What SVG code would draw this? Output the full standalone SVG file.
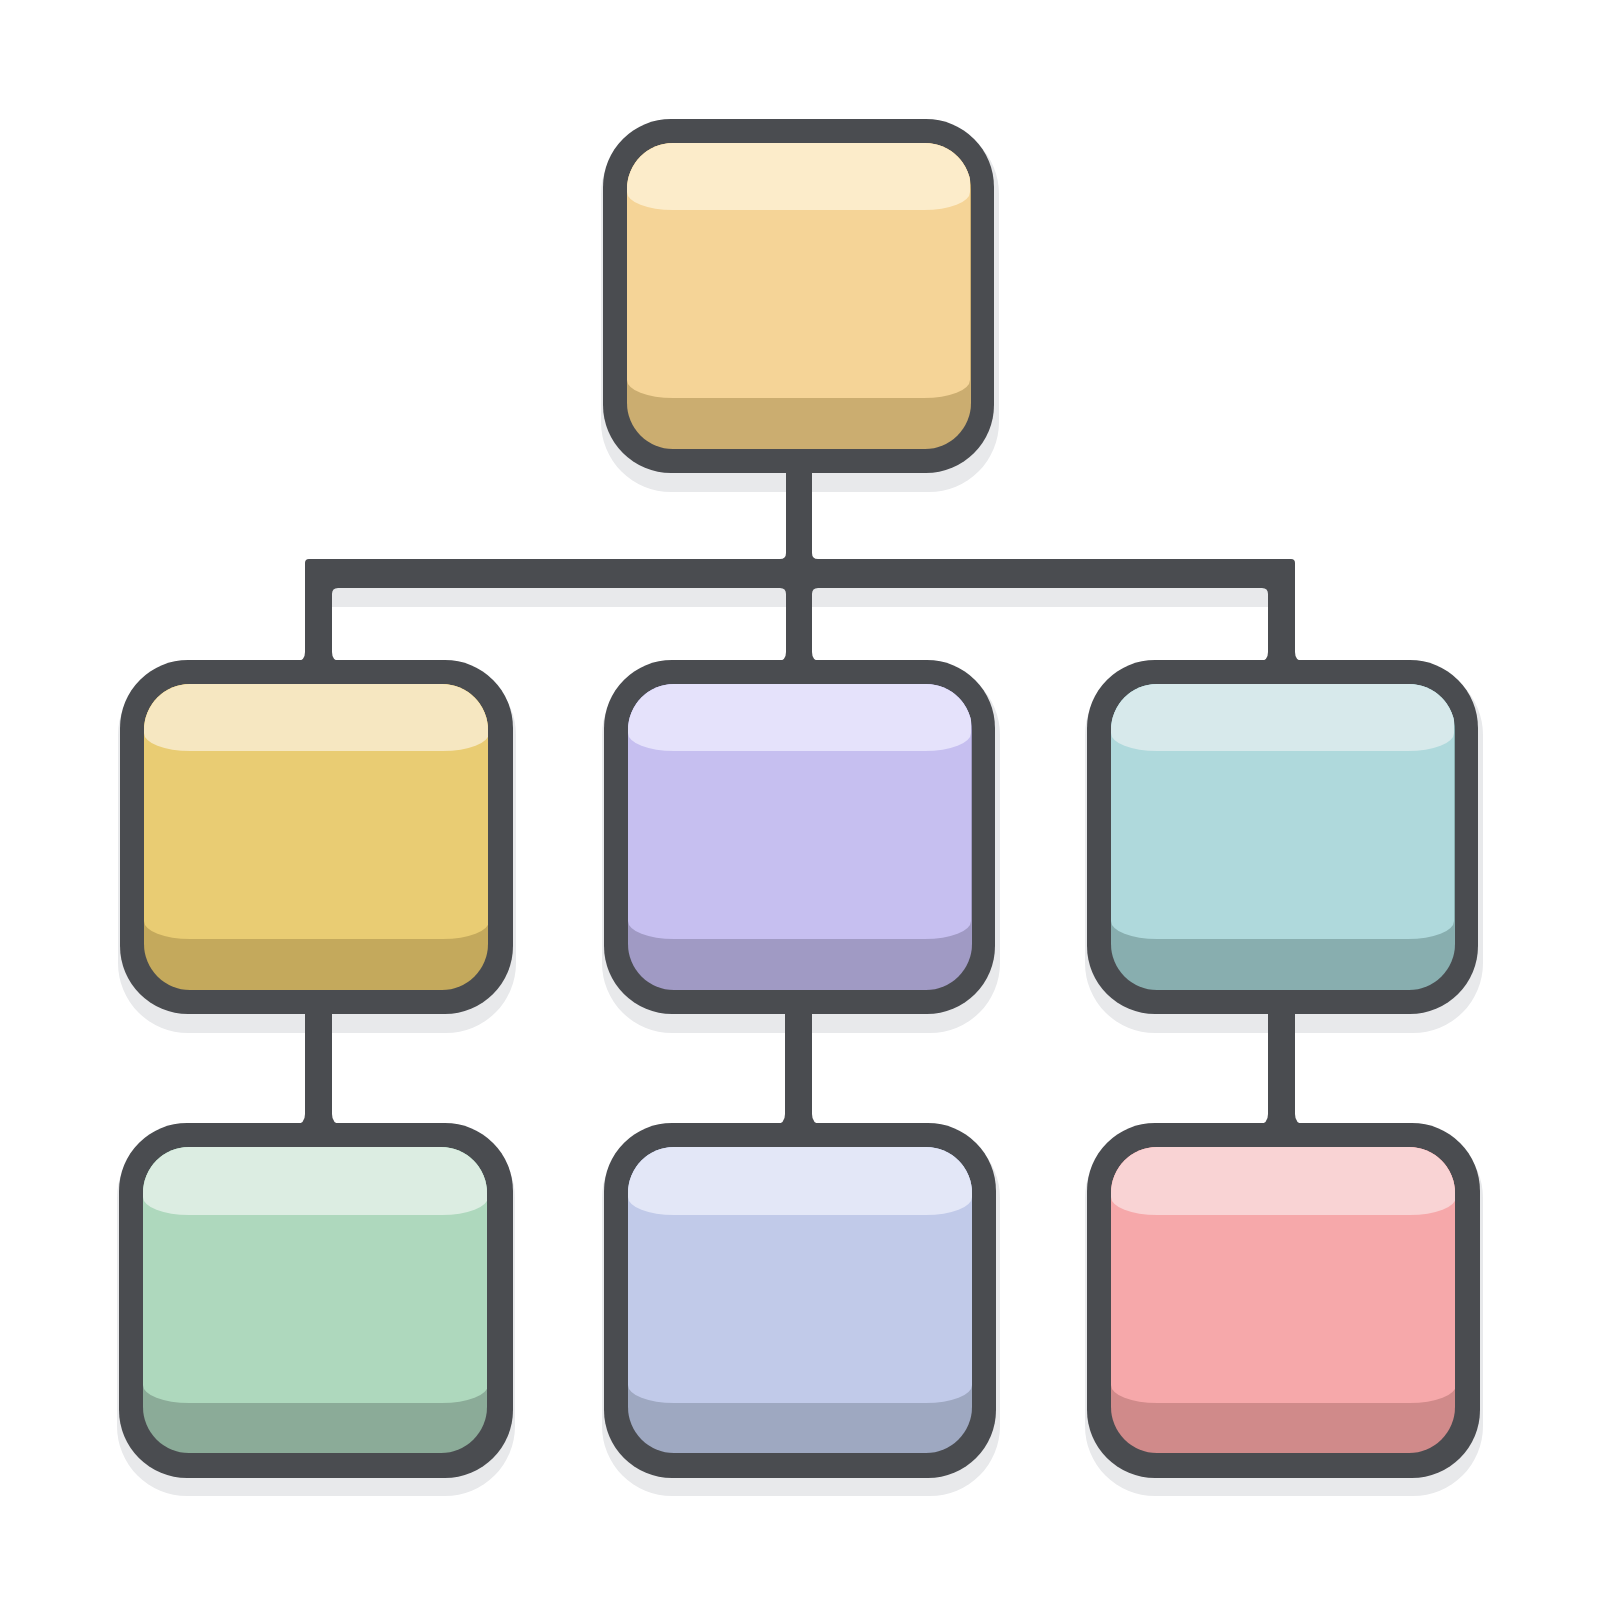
<svg xmlns="http://www.w3.org/2000/svg" width="1600" height="1600" viewBox="0 0 1600 1600">
<style>
.frame{fill:#4a4c50}
.sh{fill:#e8e9eb}
.conn{fill:#4a4c50}
#n-top .h{fill:#fcecca}#n-top .m{fill:#f5d497}#n-top .d{fill:#cbad70}
#n-ml .h{fill:#f6e7c1}#n-ml .m{fill:#e9cc73}#n-ml .d{fill:#c4a95c}
#n-mm .h{fill:#e5e2fb}#n-mm .m{fill:#c6bff0}#n-mm .d{fill:#a09ac4}
#n-mr .h{fill:#d7e9eb}#n-mr .m{fill:#afd9dc}#n-mr .d{fill:#88aeaf}
#n-bl .h{fill:#dcede2}#n-bl .m{fill:#aed8bd}#n-bl .d{fill:#8bab98}
#n-bm .h{fill:#e3e7f7}#n-bm .m{fill:#c1cae9}#n-bm .d{fill:#9ea8c1}
#n-br .h{fill:#f9d3d4}#n-br .m{fill:#f6a8aa}#n-br .d{fill:#d08a8a}
</style>
<defs>
<clipPath id="inner"><rect x="24" y="24" width="344" height="306" rx="46"/></clipPath>
<rect id="shape-sh" x="-2" y="5" width="398" height="368" rx="70"/>
</defs>
<rect width="1600" height="1600" fill="#ffffff"/>
<g id="shadows" class="sh">
<use href="#shape-sh" x="603" y="119"/>
<use href="#shape-sh" x="120" y="660"/>
<use href="#shape-sh" x="604" y="660"/>
<use href="#shape-sh" x="1087" y="660"/>
<use href="#shape-sh" x="119" y="1123"/>
<use href="#shape-sh" x="604" y="1123"/>
<use href="#shape-sh" x="1087" y="1123"/>
<rect x="305" y="576" width="990" height="31" rx="4"/>
</g>
<g id="connectors" class="conn">
<path d="M786 470 L786 553 Q786 559 780 559 L309 559 Q305 559 305 563 L305 652 Q305 661 297 661 L340 661 Q332 661 332 652 L332 594 Q332 588 338 588 L780 588 Q786 588 786 594 L786 652 Q786 661 778 661 L820 661 Q812 661 812 652 L812 594 Q812 588 818 588 L1262 588 Q1268 588 1268 594 L1268 652 Q1268 661 1260 661 L1303 661 Q1295 661 1295 652 L1295 563 Q1295 559 1291 559 L818 559 Q812 559 812 553 L812 470 Z"/>
<path d="M305 1010 L305 1114 Q305 1124 296 1124 L341 1124 Q332 1124 332 1114 L332 1010 Z"/>
<path d="M785 1010 L785 1114 Q785 1124 776 1124 L821 1124 Q812 1124 812 1114 L812 1010 Z"/>
<path d="M1268 1010 L1268 1114 Q1268 1124 1259 1124 L1304 1124 Q1295 1124 1295 1114 L1295 1010 Z"/>
</g>
<g id="n-top" transform="translate(603 119)">
<rect class="frame" width="391" height="354" rx="68"/>
<g clip-path="url(#inner)"><rect class="d" x="20" y="20" width="352" height="314"/><rect class="m" x="24" y="-40" width="343" height="319" rx="46" ry="18"/><rect class="h" x="24" y="-40" width="343" height="131" rx="46" ry="18"/></g>
</g>
<g id="n-ml" transform="translate(120 660)">
<rect class="frame" width="393" height="354" rx="68"/>
<g clip-path="url(#inner)"><rect class="d" x="20" y="20" width="352" height="314"/><rect class="m" x="24" y="-40" width="345" height="319" rx="46" ry="18"/><rect class="h" x="24" y="-40" width="345" height="131" rx="46" ry="18"/></g>
</g>
<g id="n-mm" transform="translate(604 660)">
<rect class="frame" width="391" height="354" rx="68"/>
<g clip-path="url(#inner)"><rect class="d" x="20" y="20" width="352" height="314"/><rect class="m" x="24" y="-40" width="343" height="319" rx="46" ry="18"/><rect class="h" x="24" y="-40" width="343" height="131" rx="46" ry="18"/></g>
</g>
<g id="n-mr" transform="translate(1087 660)">
<rect class="frame" width="391" height="354" rx="68"/>
<g clip-path="url(#inner)"><rect class="d" x="20" y="20" width="352" height="314"/><rect class="m" x="24" y="-40" width="343" height="319" rx="46" ry="18"/><rect class="h" x="24" y="-40" width="343" height="131" rx="46" ry="18"/></g>
</g>
<g id="n-bl" transform="translate(119 1123)">
<rect class="frame" width="394" height="355" rx="68"/>
<g clip-path="url(#inner)"><rect class="d" x="20" y="20" width="352" height="314"/><rect class="m" x="24" y="-40" width="345" height="320" rx="46" ry="18"/><rect class="h" x="24" y="-40" width="345" height="132" rx="46" ry="18"/></g>
</g>
<g id="n-bm" transform="translate(604 1123)">
<rect class="frame" width="392" height="355" rx="68"/>
<g clip-path="url(#inner)"><rect class="d" x="20" y="20" width="352" height="314"/><rect class="m" x="24" y="-40" width="344" height="320" rx="46" ry="18"/><rect class="h" x="24" y="-40" width="344" height="132" rx="46" ry="18"/></g>
</g>
<g id="n-br" transform="translate(1087 1123)">
<rect class="frame" width="393" height="355" rx="68"/>
<g clip-path="url(#inner)"><rect class="d" x="20" y="20" width="352" height="314"/><rect class="m" x="24" y="-40" width="345" height="320" rx="46" ry="18"/><rect class="h" x="24" y="-40" width="345" height="132" rx="46" ry="18"/></g>
</g>
</svg>
